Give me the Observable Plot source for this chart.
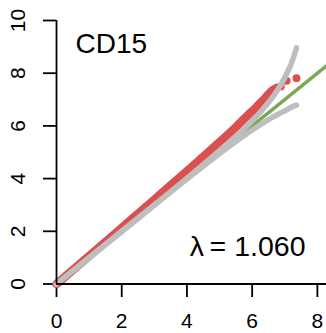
<!DOCTYPE html>
<html>
<head>
<meta charset="utf-8">
<script src="https://cdn.jsdelivr.net/npm/d3@7"></script>
<script src="https://cdn.jsdelivr.net/npm/@observablehq/plot@0.6"></script>
<style>
  html, body { margin: 0; padding: 0; background: #fff; }
  #chart svg g[aria-label$="axis tick"] path, #chart svg g[aria-label$="axis"] path, #chart svg g[aria-label$="axis"] line { stroke-width: 1.8px; stroke: #000; }
</style>
</head>
<body>
<div id="chart"></div>
<script>
// ---- data ----
const panelTitle = "CD15";
const lambdaLabel = "λ\u2009= 1.060";
const xTicks = [0, 2, 4, 6, 8];
const yTicks = [0, 2, 4, 6, 8, 10];

// dense part of the observed points (expected, observed) -log10 p
const obsExpected = [0, 1, 2, 3, 4, 4.5, 5, 5.3, 5.5, 5.7, 5.88, 6.06, 6.18, 6.36, 6.46, 6.52, 6.58, 6.66, 6.76];
const obsObserved = [0, 1.06, 2.13, 3.2, 4.28, 4.83, 5.38, 5.72, 5.95, 6.2, 6.42, 6.62, 6.78, 7.0, 7.15, 7.22, 7.3, 7.38, 7.45];
// top isolated points
const topExpected = [6.88, 7.06, 7.36];
const topObserved = [7.5, 7.71, 7.81];

// confidence band curves
const ciExpected = [0, 4.36, 5.36, 5.66, 6.06, 6.36, 6.66, 6.88, 7.06, 7.18, 7.36];
const ciUpper    = [0, 4.39, 5.45, 5.79, 6.27, 6.68, 7.15, 7.57, 7.98, 8.3, 8.96];
const ciLower    = [0, 4.33, 5.28, 5.55, 5.89, 6.13, 6.35, 6.5, 6.61, 6.7, 6.79];

// reference diagonal y = x
const diagonal = [0, 8.28];

// ---- build tables ----
const denseRows = obsExpected.map((e, i) => ({e, o: obsObserved[i]}));
const topRows = topExpected.map((e, i) => ({e, o: topObserved[i]}));
const upperRows = ciExpected.map((e, i) => ({e, v: ciUpper[i]}));
const lowerRows = ciExpected.map((e, i) => ({e, v: ciLower[i]}));

const red = "#db4f4f";
const grey = "#bebebe";
const green = "#7aa854";
const font = "'Liberation Sans', Arial, Helvetica, sans-serif";

const chart = Plot.plot({
  width: 326,
  height: 333,
  marginLeft: 56,
  marginRight: 0,
  marginTop: 20,
  marginBottom: 49.5,
  x: {domain: [0, 8.28], ticks: xTicks, tickSize: 13.5, tickFormat: () => "", label: null},
  y: {domain: [0, 10], ticks: yTicks, tickSize: 13, tickFormat: () => "", label: null},
  style: {fontFamily: font, background: "#fff", color: "#000", overflow: "visible"},
  marks: [
    Plot.line(denseRows, {x: "e", y: "o", stroke: red, strokeWidth: 8.5, strokeLinecap: "round", strokeLinejoin: "round", curve: "monotone-x"}),
    Plot.dot(topRows, {x: "e", y: "o", r: 3.9, fill: red, stroke: "none"}),
    Plot.line(diagonal, {x: d => d, y: d => d, stroke: green, strokeWidth: 3.5}),
    Plot.line(upperRows, {x: "e", y: "v", stroke: grey, strokeWidth: 5.5, strokeLinecap: "round", curve: "monotone-x"}),
    Plot.line(lowerRows, {x: "e", y: "v", stroke: grey, strokeWidth: 5.5, strokeLinecap: "round", curve: "monotone-x"}),
    Plot.ruleY([0], {x1: 0, x2: 8.28, stroke: "#000", strokeWidth: 1.8}),
    Plot.ruleX([0], {y1: 0, y2: 10, stroke: "#000", strokeWidth: 1.8}),
    Plot.text(xTicks, {x: d => d, y: 0, text: d => String(d), dy: 37.5, fontSize: 21, lineAnchor: "middle", fill: "#000"}),
    Plot.text(yTicks, {x: 0, y: d => d, text: d => String(d), rotate: -90, dx: -38, fontSize: 21, lineAnchor: "middle", textAnchor: "middle", fill: "#000"}),
    Plot.text([panelTitle], {frameAnchor: "top-left", text: d => d, dx: 19, dy: 24, fontSize: 28, textAnchor: "start", lineAnchor: "middle", fill: "#000"}),
    Plot.text([lambdaLabel], {frameAnchor: "bottom-right", text: d => d, dx: -21, dy: -37.5, fontSize: 28.5, textAnchor: "end", lineAnchor: "middle", fill: "#000"})
  ]
});
document.getElementById("chart").appendChild(chart);
</script>
</body>
</html>
